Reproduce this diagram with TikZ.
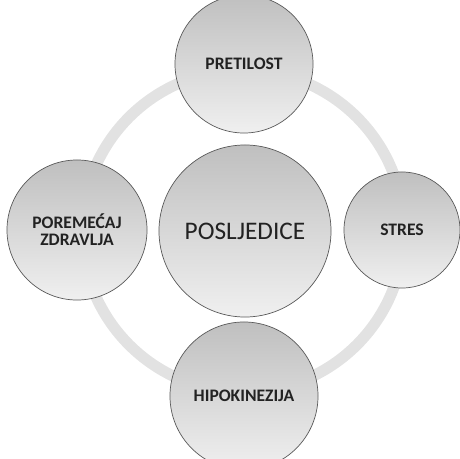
\documentclass[tikz,border=0pt]{standalone}
\usepackage{fontspec}
\setmainfont{Carlito}
\usetikzlibrary{positioning}
\definecolor{ringgray}{HTML}{E2E2E2}
\definecolor{labelgray}{HTML}{222222}
\tikzset{ball/.style = {circle, draw=black!65, line width=0.5pt,
                        top color=gray!50, bottom color=gray!12,
                        text=labelgray, align=center, inner sep=0}}
\tikzset{small/.style = {ball, font=\bfseries\fontsize{12.5}{14}\selectfont}}

\begin{document}
\begin{tikzpicture}[x=0.025cm, y=-0.025cm]
      \useasboundingbox (0, 0) rectangle (460, 459);

      \coordinate (hub) at (243, 231);
      \draw [ringgray, line width=0.28cm] (hub) circle [radius=161];

      \node [small, minimum size=3.45cm] (pretilost) at (244, 64) {PRETILOST};
      \node [small, minimum size=2.9cm] (stres) at (402, 230) {STRES};
      \node [small, minimum size=3.5cm] (poremecaj) at (77, 230) {POREMEĆAJ\\[-2pt]ZDRAVLJA};
      \node [small, minimum size=3.7cm] (hipokinezija) at (244, 396) {HIPOKINEZIJA};

      \node [ball, minimum size=4.3cm, font=\fontsize{18}{20}\selectfont] (posljedice) at (245, 231) {POSLJEDICE};
    \end{tikzpicture}
\end{document}
